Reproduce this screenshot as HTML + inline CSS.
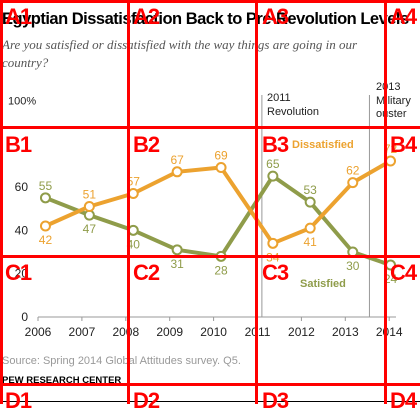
<!DOCTYPE html>
<html><head><meta charset="utf-8"><style>
body{margin:0;width:420px;height:404px;overflow:hidden;background:#fff;font-family:"Liberation Sans",sans-serif;position:relative}
.t{position:absolute;white-space:nowrap}
.g{position:absolute;background:#f00}
.lab{position:absolute;color:#f00;font:bold 22px "Liberation Sans",sans-serif;letter-spacing:-1px;line-height:1}
</style></head><body>
<div class="t" style="left:2px;top:10px;font-size:16.5px;font-weight:bold;letter-spacing:-0.5px">Egyptian Dissatisfaction Back to Pre-Revolution Levels</div>
<div class="t" style="left:2px;top:36px;font:italic 13px/18px 'Liberation Serif',serif;color:#555">Are you satisfied or dissatisfied with the way things are going in our<br>country?</div>
<svg id="c" width="420" height="404" style="position:absolute;left:0;top:0"></svg>
<div class="t" style="left:2px;top:355px;font-size:11px;color:#999">Source: Spring 2014 Global Attitudes survey. Q5.</div>
<div class="t" style="left:2px;top:375px;font-size:9.5px;font-weight:bold">PEW RESEARCH CENTER</div>
<div style="position:absolute;left:0;top:401px;width:420px;height:1px;background:#000"></div>
<div class="g" style="left:0;top:0;width:3px;height:404px"></div>
<div class="g" style="left:127px;top:0;width:3px;height:404px"></div>
<div class="g" style="left:255px;top:0;width:3px;height:404px"></div>
<div class="g" style="left:384px;top:0;width:3px;height:404px"></div>
<div class="g" style="left:0;top:0;width:420px;height:3px"></div>
<div class="g" style="left:0;top:126px;width:420px;height:3px"></div>
<div class="g" style="left:0;top:255px;width:420px;height:3px"></div>
<div class="g" style="left:0;top:383px;width:420px;height:3px"></div>
<div class="lab" style="left:5px;top:6px">A1</div><div class="lab" style="left:133px;top:6px">A2</div><div class="lab" style="left:262px;top:6px">A3</div><div class="lab" style="left:390px;top:6px">A4</div>
<div class="lab" style="left:5px;top:134px">B1</div><div class="lab" style="left:133px;top:134px">B2</div><div class="lab" style="left:262px;top:134px">B3</div><div class="lab" style="left:390px;top:134px">B4</div>
<div class="lab" style="left:5px;top:262px">C1</div><div class="lab" style="left:133px;top:262px">C2</div><div class="lab" style="left:262px;top:262px">C3</div><div class="lab" style="left:390px;top:262px">C4</div>
<div class="lab" style="left:5px;top:390px">D1</div><div class="lab" style="left:133px;top:390px">D2</div><div class="lab" style="left:262px;top:390px">D3</div><div class="lab" style="left:390px;top:390px">D4</div>
<script>
const years=[2006.17,2007.17,2008.17,2009.17,2010.17,2011.35,2012.2,2013.17,2014.03];
const dissatisfied=[42,51,57,67,69,34,41,62,72];
const satisfied=[55,47,40,31,28,65,53,30,24];
const xTicks=[2006,2007,2008,2009,2010,2011,2012,2013,2014];
const yTicks=[0,20,40,60];
const events=[2011.1,2013.55];
const NS='http://www.w3.org/2000/svg';
const svg=document.getElementById('c');
const x=v=>38+(v-2006)*43.9;
const y=v=>317-v*2.167;
function mk(t,a,p){const e=document.createElementNS(NS,t);for(const k in a)e.setAttribute(k,a[k]);(p||svg).appendChild(e);return e;}
const ax=mk('line',{x1:38,x2:396,y1:317,y2:317,stroke:'#999','stroke-width':1});


xTicks.forEach(t=>{
 mk('line',{x1:x(t),x2:x(t),y1:317,y2:321,stroke:'#999'});
 const tx=mk('text',{x:x(t),y:336,'text-anchor':'middle','font-size':12,fill:'#222'});tx.textContent=t;
 
 
});
yTicks.forEach(t=>{
 const tx=mk('text',{x:28,y:y(t)+4,'text-anchor':'end','font-size':12,fill:'#222'});tx.textContent=t;
 
 
});
const yl=mk('text',{x:8,y:y(100)+4,'font-size':11,fill:'#222'});yl.textContent='100%';


events.forEach(e=>{mk('line',{x1:x(e),x2:x(e),y1:95,y2:317,stroke:'#999'});});
const e1=mk('text',{'font-size':11,fill:'#222'});e1.innerHTML='<tspan x="267" y="101">2011</tspan><tspan x="267" y="115">Revolution</tspan>';


const e2=mk('text',{'font-size':11,fill:'#222'});e2.innerHTML='<tspan x="376" y="90">2013</tspan><tspan x="376" y="104">Military</tspan><tspan x="376" y="117">ouster</tspan>';


function series(vals,col,name,below){
 const pl=mk('polyline',{points:vals.map((v,i)=>x(years[i])+','+y(v)).join(' '),fill:'none',stroke:col,'stroke-width':4,'stroke-linejoin':'round'});
 
 
 vals.forEach((v,i)=>{
  const c=mk('circle',{cx:x(years[i]),cy:y(v),r:4.5,fill:'#fff',stroke:col,'stroke-width':2});
  
  
  const dn=below[i]?15:-8;
  const t=mk('text',{x:x(years[i]),y:y(v)+dn+(below[i]?3:0),'text-anchor':'middle','font-size':12,fill:col});t.textContent=v;
  
  
 });
}
series(satisfied,'#8f9c4a','satisfied',[0,1,1,1,1,0,0,1,1]);
series(dissatisfied,'#eca22f','dissatisfied',[1,0,0,0,0,1,1,0,0]);
const l1=mk('text',{x:292,y:148,'font-size':11,'font-weight':'bold',fill:'#eca22f'});l1.textContent='Dissatisfied';


const l2=mk('text',{x:300,y:287,'font-size':11,'font-weight':'bold',fill:'#8f9c4a'});l2.textContent='Satisfied';


</script>
</body></html>
